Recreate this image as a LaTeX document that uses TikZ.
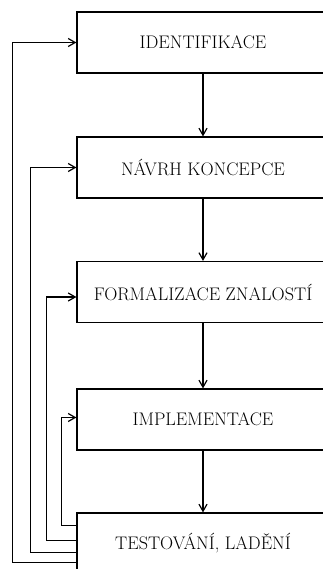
\documentclass[tikz,border=0pt]{standalone}
\usepackage{tikz}
\usetikzlibrary{arrows.meta}

\begin{document}
\begin{tikzpicture}[x=1pt,y=-1pt,->,>={Straight Barb[length=7pt,width=8pt]},
      line width=1.2pt,
      box/.style={draw,rectangle,minimum width=252pt,minimum height=61pt,
        font=\fontsize{18.2}{22}\selectfont}]
    \clip (0,0) rectangle (323,569);
    \node[box] (ident) at (203,42.5) {IDENTIFIKACE};
    \node[box] (navrh) at (203,167.5) {NÁVRH KONCEPCE};
    \node[box] (formal) at (203,292) {FORMALIZACE ZNALOSTÍ};
    \node[box] (impl) at (203,419.5) {IMPLEMENTACE};
    \node[box] (test) at (203,543.5) {TESTOVÁNÍ, LADĚNÍ};
    \path (ident) edge (navrh)
    (navrh) edge (formal)
    (formal) edge (impl)
    (impl) edge (test);
    % zpetne vazby
    \draw ([yshift=-50pt]test.north west) -- ++(-64,0) |- (ident.west);
    \draw ([yshift=-40pt]test.north west) -- ++(-46,0) |- (navrh.west);
    \draw ([yshift=-28pt]test.north west) -- ++(-30,0) |- ([yshift=-5pt]formal.west);
    \draw ([yshift=-13pt]test.north west) -- ++(-15,0) |- ([yshift=2pt]impl.west);
  \end{tikzpicture}
\end{document}
